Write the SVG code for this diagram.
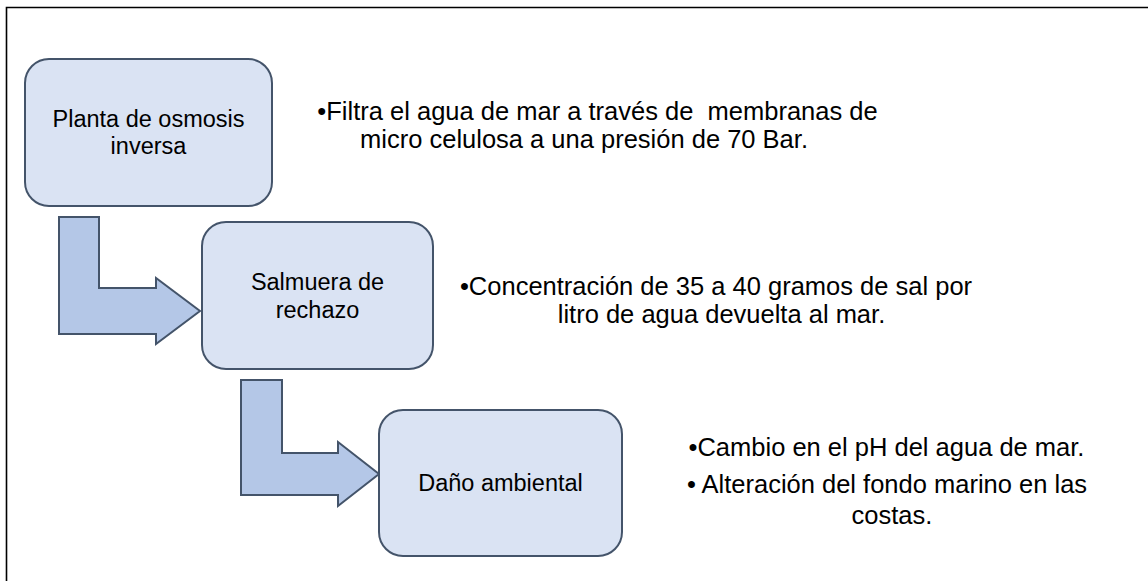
<svg xmlns="http://www.w3.org/2000/svg" width="1148" height="581" viewBox="0 0 1148 581">
<style>
.box{fill:#DAE3F3;stroke:#44546A;stroke-width:2}
.arrow{fill:#B4C7E7;stroke:#44546A;stroke-width:2;stroke-linejoin:miter}
.t{font-family:"Liberation Sans",Arial,sans-serif;font-size:23.5px;fill:#000;text-anchor:middle}
.n{font-family:"Liberation Sans",Arial,sans-serif;font-size:25.5px;fill:#000;text-anchor:middle}
.frame{fill:none;stroke:#000;stroke-width:1.6}
</style>
<rect x="0" y="0" width="1148" height="581" fill="#fff"/>
<path class="frame" d="M6.5,581 V7.5 H1148"/>
<g id="connectors">
<path id="arrow-1" class="arrow" d="M59,217 H99 V288 H156 V278 L200,311 L156,344 V334 H59 Z"/>
<path id="arrow-2" class="arrow" d="M241,380 H282 V453 H338 V442 L379,474 L338,506 V495 H241 Z"/>
</g>
<g id="node-planta">
<rect class="box" x="25" y="59" width="247" height="147" rx="24"/>
<text class="t" x="148.5" y="127">Planta de osmosis</text>
<text class="t" x="148.5" y="154">inversa</text>
</g>
<g id="node-salmuera">
<rect class="box" x="202" y="222" width="231" height="147" rx="24"/>
<text class="t" x="317.5" y="290">Salmuera de</text>
<text class="t" x="317.5" y="318">rechazo</text>
</g>
<g id="node-dano">
<rect class="box" x="379" y="410" width="243" height="146" rx="24"/>
<text class="t" x="500.5" y="491">Daño ambiental</text>
</g>
<g id="note-planta">
<text class="n" x="597.5" y="120" xml:space="preserve">•Filtra el agua de mar a través de  membranas de</text>
<text class="n" x="584" y="148">micro celulosa a una presión de 70 Bar.</text>
</g>
<g id="note-salmuera">
<text class="n" x="716" y="295">•Concentración de 35 a 40 gramos de sal por</text>
<text class="n" x="721.5" y="323">litro de agua devuelta al mar.</text>
</g>
<g id="note-dano">
<text class="n" x="886.5" y="456">•Cambio en el pH del agua de mar.</text>
<text class="n" x="887" y="493">• Alteración del fondo marino en las</text>
<text class="n" x="892" y="524">costas.</text>
</g>
</svg>
